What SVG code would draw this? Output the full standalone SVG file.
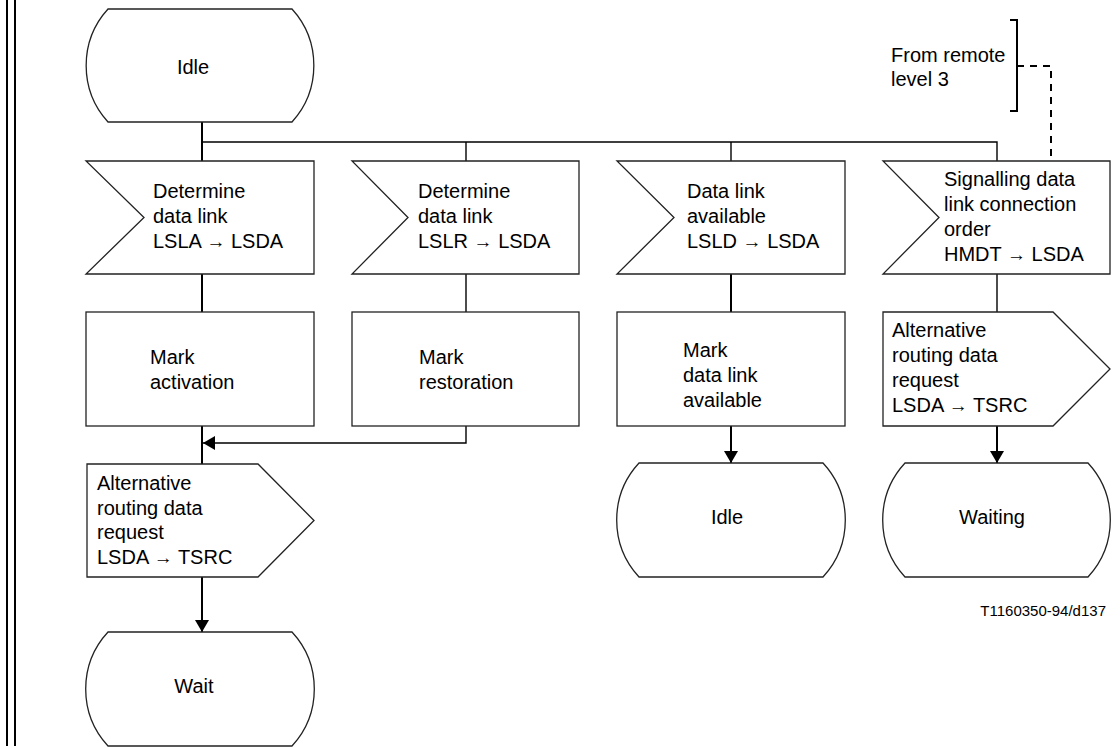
<svg xmlns="http://www.w3.org/2000/svg" width="1120" height="748" viewBox="0 0 1120 748">
<style>
.s{fill:#fff;stroke:#222;stroke-width:1.3}
.t{font-family:"Liberation Sans",Arial,sans-serif;font-size:20px;fill:#000}
.ar{font-size:19px}
.c{fill:none;stroke:#000;stroke-width:2}
.cn{fill:none;stroke:#000;stroke-width:1.4}
.d{fill:none;stroke:#000;stroke-width:2;stroke-dasharray:7,6}
</style>
<defs>
<marker id="ah" markerUnits="userSpaceOnUse" markerWidth="13" markerHeight="14" refX="12" refY="7" orient="auto">
<path d="M0,0 L12,7 L0,14 Z" fill="#000"/>
</marker>
</defs>
<rect width="1120" height="748" fill="#fff"/>
<g id="border">
<line x1="7" y1="0" x2="7" y2="746" stroke="#000" stroke-width="2"/>
<line x1="15" y1="0" x2="15" y2="746" stroke="#000" stroke-width="2"/>
</g>
<g id="connectors">
<path class="c" d="M202,122 V161"/>
<path class="cn" d="M202,142 H997 V161"/>
<path class="cn" d="M466,142 V161"/>
<path class="cn" d="M731,142 V161"/>
<path class="c" d="M202,274 V312"/>
<path class="cn" d="M466,274 V312"/>
<path class="c" d="M731,274 V312"/>
<path class="cn" d="M997,274 V312"/>
<path class="c" d="M202,426 V464"/>
<path class="cn" d="M466,426 V443 H203" marker-end="url(#ah)"/>
<path class="c" d="M202,577 V632" marker-end="url(#ah)"/>
<path class="c" d="M731,426 V463" marker-end="url(#ah)"/>
<path class="c" d="M997,426 V463" marker-end="url(#ah)"/>
<path class="d" d="M1017,66 H1051 V161"/>
</g>
<g id="state-idle-top">
<path class="s" d="M108,9 H292 A84,84 0 0 1 292,122 H108 A84,84 0 0 1 108,9 Z"/>
<text class="t" x="193" y="74" text-anchor="middle">Idle</text>
</g>
<g id="note-remote">
<path fill="none" stroke="#000" stroke-width="2" d="M1010,20 H1017 V111 H1010"/>
<text class="t" x="891" y="62">From remote</text>
<text class="t" x="891" y="86">level 3</text>
</g>
<g id="input-lsla">
<polygon class="s" points="86,161 314,161 314,274 86,274 144,217.5"/>
<text class="t" x="153" y="198">Determine</text>
<text class="t" x="153" y="223">data link</text>
<text class="t" x="153" y="248">LSLA <tspan class="ar">→</tspan> LSDA</text>
</g>
<g id="input-lslr">
<polygon class="s" points="352,161 579,161 579,274 352,274 408,217.5"/>
<text class="t" x="418" y="198">Determine</text>
<text class="t" x="418" y="223">data link</text>
<text class="t" x="418" y="248">LSLR <tspan class="ar">→</tspan> LSDA</text>
</g>
<g id="input-lsld">
<polygon class="s" points="617,161 845,161 845,274 617,274 674,217.5"/>
<text class="t" x="687" y="198">Data link</text>
<text class="t" x="687" y="223">available</text>
<text class="t" x="687" y="248">LSLD <tspan class="ar">→</tspan> LSDA</text>
</g>
<g id="input-hmdt">
<polygon class="s" points="883,161 1110,161 1110,274 883,274 939,217.5"/>
<text class="t" x="944" y="186">Signalling data</text>
<text class="t" x="944" y="211">link connection</text>
<text class="t" x="944" y="236">order</text>
<text class="t" x="944" y="261">HMDT <tspan class="ar">→</tspan> LSDA</text>
</g>
<g id="task-activation">
<rect class="s" x="86" y="312" width="228" height="114"/>
<text class="t" x="150" y="364">Mark</text>
<text class="t" x="150" y="389">activation</text>
</g>
<g id="task-restoration">
<rect class="s" x="352" y="312" width="227" height="114"/>
<text class="t" x="419" y="364">Mark</text>
<text class="t" x="419" y="389">restoration</text>
</g>
<g id="task-available">
<rect class="s" x="617" y="312" width="228" height="114"/>
<text class="t" x="683" y="357">Mark</text>
<text class="t" x="683" y="382">data link</text>
<text class="t" x="683" y="407">available</text>
</g>
<g id="output-left">
<polygon class="s" points="87,464 258,464 314,520.5 258,577 87,577"/>
<text class="t" x="97" y="490">Alternative</text>
<text class="t" x="97" y="515">routing data</text>
<text class="t" x="97" y="539">request</text>
<text class="t" x="97" y="564">LSDA <tspan class="ar">→</tspan> TSRC</text>
</g>
<g id="output-right">
<polygon class="s" points="883,312 1053,312 1110,369 1053,426 883,426"/>
<text class="t" x="892" y="337">Alternative</text>
<text class="t" x="892" y="362">routing data</text>
<text class="t" x="892" y="387">request</text>
<text class="t" x="892" y="412">LSDA <tspan class="ar">→</tspan> TSRC</text>
</g>
<g id="state-wait">
<path class="s" d="M108,632 H292 A84,84 0 0 1 292,746 H108 A84,84 0 0 1 108,632 Z"/>
<text class="t" x="194" y="693" text-anchor="middle">Wait</text>
</g>
<g id="state-idle-bottom">
<path class="s" d="M639,463 H823 A84,84 0 0 1 823,577 H639 A84,84 0 0 1 639,463 Z"/>
<text class="t" x="727" y="524" text-anchor="middle">Idle</text>
</g>
<g id="state-waiting">
<path class="s" d="M905,463 H1088 A84,84 0 0 1 1088,577 H905 A84,84 0 0 1 905,463 Z"/>
<text class="t" x="992" y="524" text-anchor="middle">Waiting</text>
</g>
<text x="1106" y="616" text-anchor="end" style="font-family:'Liberation Sans',Arial,sans-serif;font-size:15px;fill:#000">T1160350-94/d137</text>
</svg>
